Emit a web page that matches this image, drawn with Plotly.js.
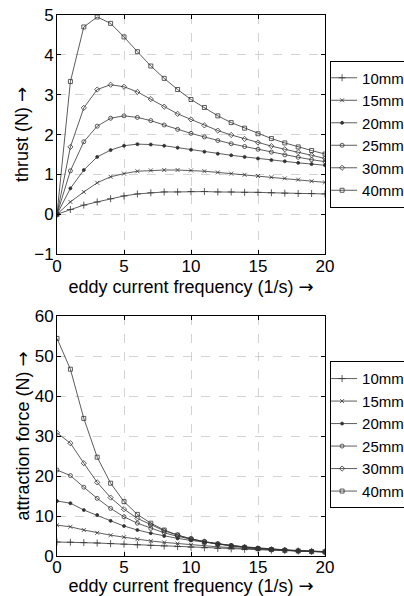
<!DOCTYPE html>
<html><head><meta charset="utf-8">
<script src="https://cdn.plot.ly/plotly-3.0.1.min.js"></script>
<style>body{margin:0;padding:0;background:#fff}#c{width:404px;height:596px}</style>
</head><body><div id="c"></div>
<script>
const freq = [0,1,2,3,4,5,6,7,8,9,10,11,12,13,14,15,16,17,18,19,20];
const labels = ['10mm','15mm','20mm','25mm','30mm','40mm'];

const thrust10 = [0,0.12,0.23,0.31,0.39,0.46,0.51,0.54,0.56,0.56,0.57,0.57,0.56,0.56,0.55,0.55,0.54,0.53,0.52,0.52,0.51];
const thrust15 = [0,0.31,0.56,0.79,0.94,1.02,1.08,1.10,1.11,1.11,1.10,1.08,1.05,1.02,0.99,0.96,0.93,0.90,0.87,0.83,0.80];
const thrust20 = [0,0.65,1.11,1.44,1.61,1.72,1.76,1.75,1.72,1.67,1.62,1.57,1.52,1.48,1.44,1.40,1.36,1.33,1.29,1.26,1.23];
const thrust25 = [0,1.09,1.82,2.21,2.41,2.47,2.43,2.35,2.24,2.13,2.03,1.94,1.85,1.77,1.70,1.63,1.56,1.49,1.43,1.37,1.32];
const thrust30 = [0,1.69,2.67,3.13,3.25,3.20,3.07,2.89,2.70,2.52,2.38,2.23,2.10,1.99,1.89,1.80,1.71,1.63,1.56,1.48,1.40];
const thrust40 = [0,3.33,4.70,4.95,4.79,4.45,4.08,3.72,3.41,3.13,2.88,2.68,2.47,2.30,2.16,2.02,1.90,1.79,1.69,1.60,1.51];

const attr10 = [3.5,3.45,3.35,3.25,3.1,2.95,2.8,2.65,2.5,2.35,2.2,2.05,1.9,1.78,1.66,1.55,1.45,1.35,1.25,1.15,1.05];
const attr15 = [7.7,7.3,6.5,5.8,5.2,4.7,4.2,3.75,3.4,3.1,2.8,2.55,2.3,2.1,1.9,1.72,1.56,1.42,1.3,1.18,1.08];
const attr20 = [13.75,13.2,11.5,10.25,8.8,7.5,6.5,5.7,5.0,4.4,3.9,3.45,3.0,2.65,2.3,2.0,1.75,1.55,1.38,1.22,1.1];
const attr25 = [21.5,20.1,17.2,14.4,11.9,9.8,8.2,6.9,5.8,4.9,4.2,3.6,3.05,2.6,2.25,1.95,1.7,1.5,1.32,1.17,1.05];
const attr30 = [30.8,28.2,23.2,18.4,14.6,11.7,9.4,7.75,6.3,5.2,4.3,3.6,3.0,2.55,2.2,1.9,1.65,1.45,1.28,1.13,1.02];
const attr40 = [54.4,46.7,34.4,24.7,18.2,13.6,10.4,8.2,6.5,5.25,4.25,3.5,2.95,2.5,2.15,1.85,1.6,1.4,1.25,1.1,1.0];

const xTicks = [0,5,10,15,20];
const thrustTicks = [-1,0,1,2,3,4,5];
const attrTicks = [0,10,20,30,40,50,60];

const thrustSeries = [thrust10,thrust15,thrust20,thrust25,thrust30,thrust40];
const attrSeries = [attr10,attr15,attr20,attr25,attr30,attr40];
const symbols = ['cross-thin-open','x-thin-open','circle','circle-open','diamond-open','square-open'];
const msizes = [5,4,3,4,4,4];

const traces = [];
thrustSeries.forEach((s,i)=>traces.push({
  x:freq, y:s, name:labels[i], type:'scatter', mode:'lines+markers',
  xaxis:'x', yaxis:'y', legend:'legend',
  line:{color:'#333', width:0.8},
  marker:{symbol:symbols[i], size:msizes[i], color:'#333', line:{color:'#333', width:0.8}}
}));
attrSeries.forEach((s,i)=>traces.push({
  x:freq, y:s, name:labels[i], type:'scatter', mode:'lines+markers',
  xaxis:'x2', yaxis:'y2', legend:'legend2',
  line:{color:'#333', width:0.8},
  marker:{symbol:symbols[i], size:msizes[i], color:'#333', line:{color:'#333', width:0.8}}
}));

const F = '"Liberation Sans", Arial, sans-serif';
const ARROW = '<span style="font-family:DejaVu Sans">→</span>';
function axBase(){ return {
  showline:true, linecolor:'#000', linewidth:1, mirror:'ticks',
  ticks:'inside', ticklen:4, tickcolor:'#000',
  showgrid:true, gridcolor:'#c8c8c8', griddash:'dash', gridwidth:0.8,
  zeroline:false, tickfont:{family:F, size:17, color:'#000'}, automargin:false
};}
const xTitle = 'eddy current frequency (1/s) ' + ARROW;
function TF(){ return {family:F, size:18, color:'#000'}; }
function legBase(){ return {xanchor:'left', bgcolor:'#fff', bordercolor:'#000', borderwidth:1,
    font:{family:F, size:15, color:'#000'}, itemwidth:30, tracegroupgap:0, indentation:-9}; }
const layout = {
  width:404, height:596,
  margin:{l:57, r:79, t:15, b:40, autoexpand:false},
  paper_bgcolor:'#fff', plot_bgcolor:'#fff',
  font:{family:F, color:'#000'},
  xaxis:Object.assign(axBase(), {domain:[0,1], anchor:'y', range:[0,20], tickvals:xTicks, ticklabelstandoff:-4,
    title:{text:xTitle, font:TF(), standoff:0}}),
  yaxis:Object.assign(axBase(), {domain:[0.558,1], anchor:'x', range:[-1,5], tickvals:thrustTicks, ticklabelstandoff:-1,
    title:{text:'thrust (N) ' + ARROW, font:TF(), standoff:0}}),
  xaxis2:Object.assign(axBase(), {domain:[0,1], anchor:'y2', range:[0,20], tickvals:xTicks, ticklabelstandoff:-4,
    title:{text:xTitle, font:TF(), standoff:0}}),
  yaxis2:Object.assign(axBase(), {domain:[0,0.4436], anchor:'x2', range:[0,60], tickvals:attrTicks, ticklabelstandoff:-1,
    title:{text:'attraction force (N) ' + ARROW, font:TF(), standoff:0}}),
  legend:Object.assign(legBase(), {x:1.019, y:0.78, yanchor:'middle'}),
  legend2:Object.assign(legBase(), {x:1.019, y:0.224, yanchor:'middle'}),
  showlegend:true
};
Plotly.newPlot('c', traces, layout, {displayModeBar:false, staticPlot:true});
</script></body></html>
